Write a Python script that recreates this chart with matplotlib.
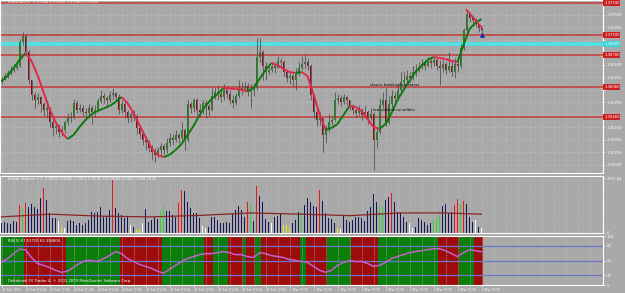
import numpy as np
import matplotlib
matplotlib.use("Agg")
import matplotlib.pyplot as plt
from matplotlib.collections import LineCollection
from matplotlib.transforms import blended_transform_factory

# ---------------- data (EURUSD H1) ----------------
first_open = 1.3616
closes = [
    1.3620, 1.3628, 1.3634, 1.3640, 1.3644, 1.3648, 1.3696, 1.3708, 1.3676, 1.3620,
    1.3590, 1.3580, 1.3586, 1.3572, 1.3560, 1.3564, 1.3536, 1.3524, 1.3528, 1.3516,
    1.3520, 1.3536, 1.3546, 1.3544, 1.3574, 1.3560, 1.3564, 1.3556, 1.3554, 1.3564,
    1.3556, 1.3560, 1.3578, 1.3588, 1.3584, 1.3580, 1.3590, 1.3594, 1.3586, 1.3560,
    1.3572, 1.3556, 1.3544, 1.3552, 1.3548, 1.3524, 1.3512, 1.3500, 1.3496, 1.3484,
    1.3476, 1.3470, 1.3480, 1.3488, 1.3480, 1.3494, 1.3504, 1.3500, 1.3510, 1.3504,
    1.3520, 1.3500, 1.3572, 1.3564, 1.3580, 1.3560, 1.3556, 1.3574, 1.3568, 1.3560,
    1.3588, 1.3596, 1.3592, 1.3586, 1.3600, 1.3592, 1.3580, 1.3574, 1.3588, 1.3604,
    1.3600, 1.3608, 1.3596, 1.3600, 1.3604, 1.3666, 1.3676, 1.3648, 1.3636, 1.3640,
    1.3648, 1.3644, 1.3658, 1.3656, 1.3636, 1.3624, 1.3628, 1.3620, 1.3632, 1.3644,
    1.3652, 1.3656, 1.3648, 1.3590, 1.3556, 1.3540, 1.3544, 1.3510, 1.3520, 1.3536,
    1.3540, 1.3580, 1.3584, 1.3576, 1.3586, 1.3580, 1.3568, 1.3560, 1.3554, 1.3560,
    1.3550, 1.3556, 1.3544, 1.3552, 1.3500, 1.3516, 1.3570, 1.3580, 1.3534, 1.3572,
    1.3588, 1.3584, 1.3600, 1.3616, 1.3620, 1.3628, 1.3624, 1.3636, 1.3640, 1.3646,
    1.3652, 1.3648, 1.3658, 1.3654, 1.3660, 1.3648, 1.3644, 1.3652, 1.3640, 1.3648,
    1.3636, 1.3652, 1.3648, 1.3684, 1.3720, 1.3752, 1.3744, 1.3740, 1.3732, 1.3724,
    1.3720,
]
highs = [
    1.3626, 1.3634, 1.3640, 1.3648, 1.3652, 1.3656, 1.3702, 1.3716, 1.3712, 1.3680,
    1.3620, 1.3596, 1.3594, 1.3588, 1.3576, 1.3572, 1.3566, 1.3544, 1.3536, 1.3532,
    1.3528, 1.3540, 1.3554, 1.3556, 1.3582, 1.3580, 1.3572, 1.3570, 1.3564, 1.3572,
    1.3570, 1.3570, 1.3584, 1.3600, 1.3594, 1.3588, 1.3598, 1.3604, 1.3596, 1.3592,
    1.3580, 1.3576, 1.3560, 1.3558, 1.3560, 1.3552, 1.3530, 1.3516, 1.3508, 1.3500,
    1.3490, 1.3484, 1.3486, 1.3494, 1.3492, 1.3504, 1.3514, 1.3512, 1.3520, 1.3514,
    1.3536, 1.3524, 1.3580, 1.3576, 1.3584, 1.3584, 1.3572, 1.3580, 1.3580, 1.3572,
    1.3604, 1.3606, 1.3610, 1.3600, 1.3612, 1.3608, 1.3600, 1.3590, 1.3594, 1.3620,
    1.3616, 1.3616, 1.3614, 1.3612, 1.3614, 1.3704, 1.3704, 1.3680, 1.3656, 1.3648,
    1.3656, 1.3654, 1.3668, 1.3664, 1.3660, 1.3640, 1.3636, 1.3632, 1.3644, 1.3656,
    1.3668, 1.3672, 1.3664, 1.3652, 1.3590, 1.3564, 1.3556, 1.3544, 1.3530, 1.3552,
    1.3548, 1.3596, 1.3592, 1.3590, 1.3592, 1.3588, 1.3580, 1.3572, 1.3564, 1.3570,
    1.3564, 1.3568, 1.3560, 1.3564, 1.3556, 1.3524, 1.3584, 1.3596, 1.3604, 1.3588,
    1.3600, 1.3596, 1.3612, 1.3636, 1.3636, 1.3640, 1.3636, 1.3648, 1.3652, 1.3656,
    1.3662, 1.3660, 1.3666, 1.3664, 1.3668, 1.3664, 1.3660, 1.3660, 1.3656, 1.3676,
    1.3660, 1.3664, 1.3660, 1.3692, 1.3724, 1.3760, 1.3756, 1.3750, 1.3744, 1.3732,
    1.3726,
]
lows = [
    1.3612, 1.3620, 1.3624, 1.3630, 1.3636, 1.3640, 1.3646, 1.3690, 1.3670, 1.3612,
    1.3580, 1.3564, 1.3572, 1.3556, 1.3548, 1.3544, 1.3524, 1.3508, 1.3512, 1.3506,
    1.3508, 1.3514, 1.3530, 1.3536, 1.3542, 1.3554, 1.3556, 1.3548, 1.3540, 1.3544,
    1.3532, 1.3546, 1.3556, 1.3574, 1.3574, 1.3568, 1.3576, 1.3582, 1.3578, 1.3552,
    1.3554, 1.3544, 1.3534, 1.3536, 1.3538, 1.3512, 1.3504, 1.3490, 1.3480, 1.3476,
    1.3460, 1.3456, 1.3464, 1.3468, 1.3472, 1.3474, 1.3488, 1.3490, 1.3496, 1.3494,
    1.3500, 1.3480, 1.3496, 1.3554, 1.3556, 1.3550, 1.3546, 1.3552, 1.3544, 1.3548,
    1.3558, 1.3582, 1.3580, 1.3576, 1.3580, 1.3584, 1.3572, 1.3564, 1.3570, 1.3584,
    1.3590, 1.3596, 1.3588, 1.3564, 1.3588, 1.3600, 1.3656, 1.3620, 1.3620, 1.3632,
    1.3636, 1.3634, 1.3644, 1.3646, 1.3628, 1.3616, 1.3612, 1.3608, 1.3600, 1.3628,
    1.3640, 1.3644, 1.3640, 1.3580, 1.3544, 1.3528, 1.3530, 1.3476, 1.3494, 1.3516,
    1.3530, 1.3538, 1.3572, 1.3568, 1.3572, 1.3570, 1.3560, 1.3552, 1.3544, 1.3548,
    1.3540, 1.3544, 1.3532, 1.3540, 1.3440, 1.3484, 1.3512, 1.3564, 1.3528, 1.3532,
    1.3564, 1.3576, 1.3580, 1.3596, 1.3608, 1.3612, 1.3616, 1.3620, 1.3628, 1.3636,
    1.3642, 1.3640, 1.3646, 1.3644, 1.3648, 1.3640, 1.3610, 1.3636, 1.3632, 1.3636,
    1.3628, 1.3624, 1.3636, 1.3644, 1.3680, 1.3716, 1.3736, 1.3732, 1.3726, 1.3716,
    1.3714,
]

# smoothed trend line, read every second bar
ma_step = 2
ma_values = [
    1.3618, 1.3628, 1.3644, 1.3660, 1.3674, 1.3658, 1.3630, 1.3596, 1.3562, 1.3536,
    1.3516, 1.3502, 1.3510, 1.3526, 1.3540, 1.3552, 1.3558, 1.3563, 1.3568, 1.3576,
    1.3586, 1.3574, 1.3554, 1.3530, 1.3506, 1.3484, 1.3470, 1.3466, 1.3470, 1.3480,
    1.3492, 1.3510, 1.3528, 1.3550, 1.3568, 1.3582, 1.3592, 1.3604, 1.3603, 1.3602,
    1.3600, 1.3598, 1.3604, 1.3622, 1.3640, 1.3654, 1.3650, 1.3642, 1.3636, 1.3634,
    1.3636, 1.3628, 1.3592, 1.3552, 1.3520, 1.3524, 1.3532, 1.3550, 1.3568, 1.3566,
    1.3558, 1.3542, 1.3526, 1.3522, 1.3532, 1.3554, 1.3580, 1.3600, 1.3618, 1.3636,
    1.3648, 1.3660, 1.3666, 1.3664, 1.3662, 1.3658, 1.3656, 1.3690, 1.3722, 1.3734,
    1.3742,
]
ma_tail_start = 155
ma_tail_red = [1.3760, 1.3754, 1.3746, 1.3740, 1.3732, 1.3726]

levels_red = [1.3774, 1.3710, 1.3670, 1.3606, 1.3546]
level_cyan = 1.3692
signal_bar, signal_price = 160, 1.3710

notes = [("classic breakout no retest", 122.8, 1.3609),
         ("low volume no sellers", 123.8, 1.3560)]

# Better Volume histogram
volumes = [
    390, 450, 390, 360, 490, 450, 1120, 990, 1210, 1050,
    1150, 1030, 950, 1430, 1830, 1320, 800, 590, 590, 490,
    250, 190, 490, 520, 490, 320, 410, 320, 390, 520,
    850, 810, 850, 1050, 650, 680, 920, 2120, 990, 790,
    720, 590, 650, 320, 250, 150, 150, 410, 950, 450,
    520, 650, 550, 890, 1080, 890, 890, 720, 650, 1210,
    1750, 1690, 1250, 990, 810, 790, 590, 280, 190, 250,
    650, 650, 520, 390, 410, 450, 410, 760, 920, 1080,
    920, 650, 1250, 1230, 490, 1880, 1480, 1250, 550, 450,
    390, 650, 680, 790, 320, 320, 250, 390, 520, 850,
    850, 1120, 1430, 1250, 1080, 1050, 1720, 1280, 790, 590,
    550, 410, 190, 150, 720, 520, 450, 520, 650, 650,
    590, 490, 890, 1030, 1560, 1250, 1050, 1050, 1320, 1450,
    1610, 1250, 850, 810, 650, 450, 390, 190, 230, 590,
    520, 450, 320, 390, 550, 550, 720, 1080, 1190, 790,
    850, 1120, 1390, 1190, 1290, 1190, 650, 450, 520, 250,
    190,
]
vol_kinds = ("nnnnnnrgrn" "nnnnrnnnnw" "ywnnnnnnnn" "nnnnnnnrnn" "nnnwnyywnn"
             "nnnggnnnnr" "rnnnnnnwwn" "nnnnnnnnnn" "nnrgnrnnnn" "wnnnyyynnn"
             "gnnnnnrnnn" "nnywnnnnnn" "nnnnnnggnn" "rnnnnnwwnn" "nnnngggnnn"
             "nrrgrnnnwn" "w")
vol_ma_bars = [0, 16, 33, 50, 66, 83, 100, 116, 133, 147, 160]
vol_ma = [650, 760, 680, 650, 710, 810, 760, 700, 810, 810, 760]

# RSI, read every second bar
rsi_values = [
    47, 54, 64, 73, 72, 56, 44, 40, 36, 30,
    26, 28, 36, 44, 50, 50, 48, 54, 60, 68,
    64, 54, 48, 42, 38, 34, 28, 24, 32, 40,
    48, 54, 58, 62, 64, 64, 66, 68, 66, 62,
    62, 58, 56, 66, 64, 60, 58, 56, 52, 50,
    48, 46, 38, 30, 26, 30, 40, 46, 50, 48,
    48, 44, 38, 40, 46, 54, 58, 62, 66, 68,
    70, 72, 74, 74, 70, 64, 58, 66, 72, 70,
    68,
]
rsi_levels = [80, 50, 20]
# trend background behind RSI: (state, number of bars)
stripe_runs = [("g", 8), ("r", 14), ("g", 18), ("r", 14), ("g", 14), ("r", 3),
               ("g", 5), ("r", 5), ("g", 1), ("r", 3), ("g", 2), ("r", 13),
               ("g", 2), ("r", 7), ("g", 8), ("r", 9), ("g", 20), ("r", 7),
               ("g", 5), ("r", 3)]

tick_bars = list(range(0, 161, 8))
tick_labels = ["22 Feb 2010", "23 Feb 09:00", "23 Feb 17:00", "24 Feb 01:00",
               "24 Feb 09:00", "24 Feb 17:00", "25 Feb 01:00", "25 Feb 09:00",
               "25 Feb 17:00", "26 Feb 01:00", "26 Feb 09:00", "26 Feb 17:00",
               "1 Mar 03:00", "1 Mar 11:00", "1 Mar 19:00", "2 Mar 03:00",
               "2 Mar 11:00", "2 Mar 19:00", "3 Mar 03:00", "3 Mar 11:00",
               "3 Mar 19:00"]

# ---------------- styling ----------------
BG = "#a9a9a9"
GRID = "#c6c6c6"
FG = "white"
BULL, BEAR, WICK = "#118c11", "#8e0d16", "#4a4a4a"
MA_UP, MA_DN = "#0b7a0b", "#e2264a"
VOL_COL = {"n": "#15155c", "r": "#e8161e", "g": "#36d436", "w": "#ffffff", "y": "#eee21a"}
STRIPE = {"g": "#0b7d0b", "r": "#9e0b0b"}
FS = 2.7
FS_DATE = 2.15

n = len(closes)
assert len(highs) == n and len(lows) == n and len(volumes) == n and len(vol_kinds) == n
x = np.arange(n)
xlim = (-0.5, -0.5 + 603 / 3.0)

fig = plt.figure(figsize=(6.25, 2.93), dpi=100, facecolor=BG)
ax = fig.add_axes([0, 0.4096, 0.9648, 0.5904], facecolor=BG)
axv = fig.add_axes([0, 0.2048, 0.9648, 0.1945], facecolor=BG)
axr = fig.add_axes([0, 0.0273, 0.9648, 0.1672], facecolor=BG)

for a in (ax, axv, axr):
    a.set_xlim(*xlim)
    for s in a.spines.values():
        s.set_color(FG)
        s.set_linewidth(0.8)
    a.yaxis.tick_right()
    a.tick_params(axis="y", colors=FG, labelsize=FS, length=1.5, width=0.5, pad=1)
    a.set_xticks(np.arange(0, 201, 8))
    a.set_xticks(np.arange(4, 201, 8), minor=True)
    a.tick_params(axis="x", which="both", length=0, labelbottom=False)
    a.grid(True, axis="x", which="both", color=GRID, linestyle=(0, (1, 1.5)), lw=0.5)
    a.set_axisbelow(True)

# ---- price panel ----
ax.set_ylim(1.3434, 1.3780)
price_ticks = np.arange(1.3450, 1.3780, 0.0025)
ax.set_yticks(price_ticks)
ax.grid(True, axis="y", color=GRID, linestyle=(0, (1, 1.5)), lw=0.5)
# the level boxes cover the scale labels next to them
marked = levels_red + [level_cyan]
ax.set_yticklabels(["" if min(abs(t - m) for m in marked) < 0.0009 else "%.5f" % t
                    for t in price_ticks])

for lv in levels_red:
    ax.axhline(lv, color="#c83a3a", lw=1.1, zorder=1)
ax.axhline(level_cyan, color="#4fe3e6", lw=2.6, zorder=1)

opens = np.array([first_open] + closes[:-1])
c = np.array(closes)
up = c >= opens
ax.vlines(x, lows, highs, color=WICK, lw=0.55, zorder=2)
body_lo = np.minimum(opens, c)
body_h = np.maximum(np.abs(c - opens), 0.00006)
ax.bar(x, body_h, bottom=body_lo, width=0.62, color=np.where(up, BULL, BEAR),
       linewidth=0, zorder=3)

xm = np.arange(0, n, ma_step)
pts = np.column_stack([xm, ma_values])
segs = np.stack([pts[:-1], pts[1:]], axis=1)
seg_cols = [MA_UP if b > a_ else MA_DN for a_, b in zip(ma_values[:-1], ma_values[1:])]
ax.add_collection(LineCollection(segs, colors=seg_cols, linewidths=1.4, zorder=4))
xt = np.arange(ma_tail_start, ma_tail_start + len(ma_tail_red))
ax.plot(xt, ma_tail_red, color=MA_DN, lw=1.2, zorder=4)
ax.plot(signal_bar, signal_price, marker="^", color="#2b2ba8", ms=2.5, zorder=5)

for txt, bx, py in notes:
    ax.text(bx, py, txt, fontsize=FS, color="black", va="center", ha="left", zorder=6)

ax.text(2, 1.3775, "EURUSD,H1  %.5f %.5f %.5f %.5f" % (opens[-1], highs[-1], lows[-1], closes[-1]),
        fontsize=FS, color=FG, va="center", ha="left", zorder=6)

tr = blended_transform_factory(ax.transAxes, ax.transData)
for lv in levels_red:
    ax.text(1.002, lv, "%.5f" % lv, transform=tr, fontsize=FS, color=FG, va="center",
            ha="left", clip_on=False, zorder=7,
            bbox=dict(boxstyle="square,pad=0.2", fc="#cc2020", ec="none"))
ax.text(1.002, level_cyan, "%.5f" % level_cyan, transform=tr, fontsize=FS, color=FG,
        va="center", ha="left", clip_on=False, zorder=7,
        bbox=dict(boxstyle="square,pad=0.2", fc="#3fd6d9", ec="none"))

# ---- volume panel ----
axv.set_ylim(0, 2300)
axv.bar(x, volumes, width=0.65, color=[VOL_COL[k] for k in vol_kinds], linewidth=0, zorder=2)
axv.plot(vol_ma_bars, vol_ma, color="#8a2424", lw=0.9, zorder=3)
axv.set_yticks([0, 2200])
axv.set_yticklabels(["0", "2371.84"])
axv.text(2, 2180, "Better Volume 1.1  0.0000 0.0000 1.0000 0.0000 432.0000 0.0000 1994.5000",
         fontsize=FS, color=FG, va="center", ha="left")

# ---- RSI panel ----
axr.set_ylim(0, 100)
pos = 0
for state, length in stripe_runs:
    axr.axvspan(pos - 0.5, pos + length - 0.5, color=STRIPE[state], lw=0, zorder=0)
    pos += length
for lv in rsi_levels:
    axr.axhline(lv, color="#6a78c4", lw=0.9, zorder=1)
axr.plot(np.arange(0, n, ma_step), rsi_values, color="#c062d0", lw=1.1, zorder=3)
axr.set_yticks([0, 20, 50, 80, 100])
axr.text(2, 90, "RSI(5) 67.51720 63.394804", fontsize=FS, color=FG, va="center", ha="left")
axr.text(2, 8, "Deltabank FX Trader 4, \u00a9 2001-2009 MetaQuotes Software Corp.",
         fontsize=FS, color=FG, va="center", ha="left")

axr.set_xticks(tick_bars)
axr.set_xticklabels(tick_labels)
axr.tick_params(axis="x", which="major", labelbottom=True, colors=FG, labelsize=FS_DATE,
                length=1.5, width=0.5, pad=0.8)
for lbl in axr.get_xticklabels():
    lbl.set_ha("left")

fig.savefig("out.png", dpi=100, facecolor=BG)
